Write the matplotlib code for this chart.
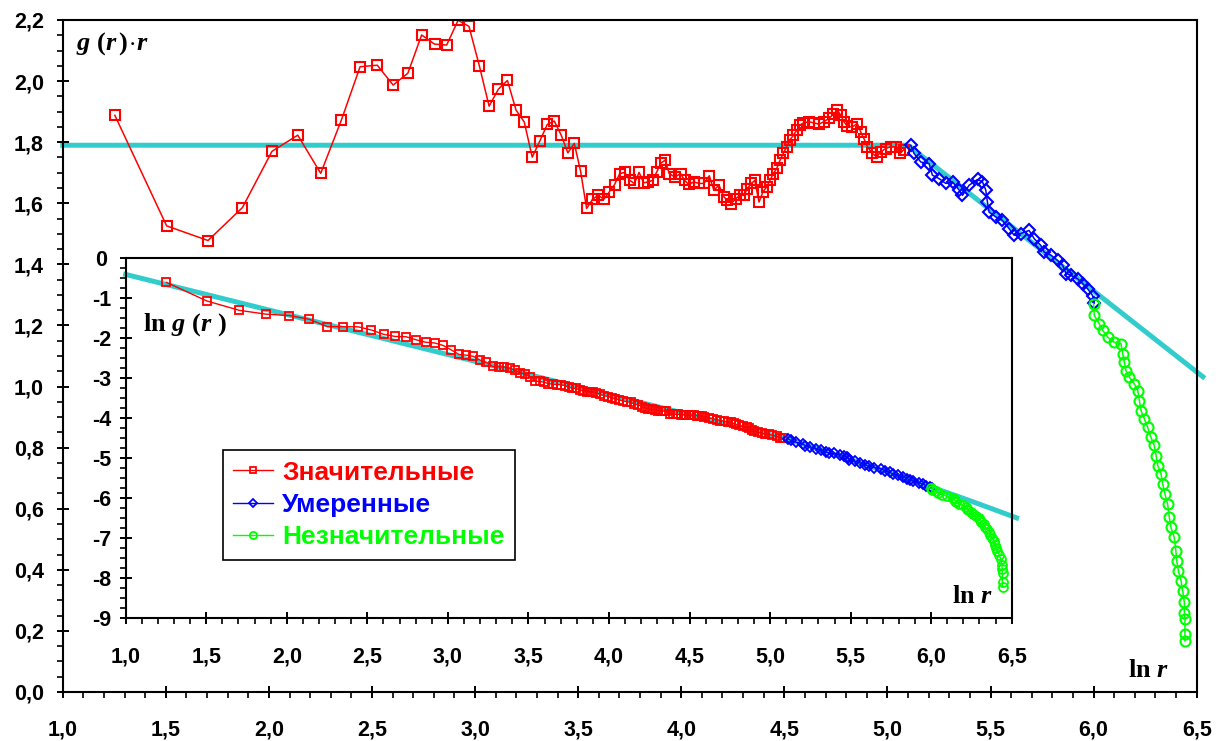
import numpy as np
import matplotlib
matplotlib.use("Agg")
import matplotlib.pyplot as plt
from matplotlib.ticker import MultipleLocator, FuncFormatter

plt.rcParams["font.family"] = ["Liberation Sans", "DejaVu Sans"]
plt.rcParams["font.weight"] = "bold"
plt.rcParams["mathtext.fontset"] = "custom"
plt.rcParams["mathtext.rm"] = "Liberation Serif:bold"
plt.rcParams["mathtext.it"] = "Liberation Serif:italic:bold"
plt.rcParams["mathtext.bf"] = "Liberation Serif:bold"

# "Значительные": r = 3.5, 4.5, ... 51.5 (one point per r), then denser part read by ln r
red_r = np.arange(3.5, 52.0, 1.0)
red_gr_sparse = [1.888, 1.526, 1.478, 1.586, 1.770, 1.823, 1.698, 1.872, 2.047, 2.052,
                 1.987, 2.026, 2.151, 2.121, 2.118, 2.199, 2.179, 2.051, 1.918, 1.974,
                 2.002, 1.905, 1.866, 1.751, 1.804, 1.858, 1.869, 1.823,
                 1.765, 1.796, 1.706, 1.583, 1.613, 1.626, 1.613, 1.637, 1.661, 1.697,
                 1.701, 1.675, 1.665, 1.701, 1.667, 1.670, 1.675, 1.703, 1.732, 1.741, 1.697]
red_lnr_dense = [3.969, 3.997, 4.016, 4.037, 4.061, 4.085, 4.110, 4.136, 4.158, 4.183,
                 4.207, 4.223, 4.243, 4.264, 4.284, 4.304, 4.320, 4.340, 4.357, 4.377,
                 4.396, 4.414, 4.430, 4.447, 4.463, 4.479, 4.495, 4.511, 4.527, 4.544,
                 4.560, 4.576, 4.592, 4.619, 4.644, 4.668, 4.692, 4.717, 4.738, 4.757,
                 4.773, 4.789, 4.806, 4.830, 4.854, 4.870, 4.886, 4.903, 4.927, 4.948,
                 4.967, 4.991, 5.015, 5.040, 5.061, 5.079]
red_gr_dense = [1.686, 1.697, 1.675, 1.662, 1.670, 1.665, 1.665, 1.690, 1.643, 1.659,
                1.621, 1.610, 1.599, 1.615, 1.626, 1.626, 1.648, 1.665, 1.675, 1.604,
                1.637, 1.653, 1.675, 1.697, 1.714, 1.741, 1.763, 1.785, 1.807, 1.823,
                1.839, 1.856, 1.863, 1.867, 1.863, 1.859, 1.867, 1.878, 1.892, 1.905,
                1.889, 1.867, 1.852, 1.850, 1.861, 1.834, 1.812, 1.785, 1.763, 1.752,
                1.768, 1.779, 1.785, 1.785, 1.763, 1.775]

# "Умеренные"
blue_lnr = [5.113, 5.129, 5.162, 5.202, 5.218, 5.250, 5.283, 5.316, 5.348, 5.364,
            5.396, 5.437, 5.461, 5.477, 5.485, 5.493, 5.526, 5.558, 5.590, 5.615,
            5.647, 5.687, 5.712, 5.744, 5.760, 5.793, 5.825, 5.850, 5.866, 5.890,
            5.922, 5.947, 5.971, 5.995, 6.003]
blue_gr = [1.790, 1.763, 1.735, 1.730, 1.692, 1.681, 1.665, 1.670, 1.643, 1.626,
           1.659, 1.678, 1.670, 1.643, 1.604, 1.571, 1.555, 1.544, 1.517, 1.495,
           1.501, 1.511, 1.484, 1.462, 1.440, 1.430, 1.413, 1.397, 1.370, 1.364,
           1.353, 1.337, 1.320, 1.298, 1.273]

# "Незначительные"
green_lnr = [6.000, 6.003, 6.027, 6.044, 6.068, 6.100, 6.133, 6.141, 6.149, 6.157,
             6.173, 6.197, 6.214, 6.222, 6.230, 6.246, 6.262, 6.278, 6.294, 6.303,
             6.311, 6.327, 6.335, 6.346, 6.359, 6.367, 6.375, 6.391, 6.399, 6.403,
             6.411, 6.424, 6.432, 6.440, 6.440, 6.443, 6.443, 6.443]
green_gr = [1.269, 1.233, 1.206, 1.184, 1.162, 1.145, 1.140, 1.107, 1.080, 1.052,
            1.031, 1.009, 0.987, 0.954, 0.921, 0.894, 0.867, 0.834, 0.807, 0.774,
            0.741, 0.714, 0.681, 0.648, 0.615, 0.572, 0.539, 0.506, 0.462, 0.430,
            0.397, 0.364, 0.331, 0.293, 0.260, 0.238, 0.189, 0.167]

# fitted curve g(r)*r (cyan), nodes
fit_lnr = [1.0, 5.1, 6.53]
fit_gr = [1.79, 1.79, 1.032]

labels = ["Значительные", "Умеренные", "Незначительные"]
colors = ["#ff0000", "#0000ff", "#00ff00"]
markers = ["s", "D", "o"]
msizes = [6.6, 6.0, 7.2]
cyan = "#33cccc"

red_lnr = np.concatenate([np.log(red_r), red_lnr_dense])
red_gr = np.concatenate([red_gr_sparse, red_gr_dense])
series = [(red_lnr, red_gr), (np.array(blue_lnr), np.array(blue_gr)),
          (np.array(green_lnr), np.array(green_gr))]

fig = plt.figure(figsize=(12.19, 7.41), dpi=100)
ax = fig.add_axes([0.05144, 0.06613, 0.93027, 0.90688])
ins = fig.add_axes([0.10312, 0.16599, 0.72683, 0.48623])

comma = FuncFormatter(lambda v, p: ("%.1f" % v).replace(".", ","))

# main chart: g(r)*r
fx = np.linspace(fit_lnr[0], fit_lnr[-1], 300)
fy = np.interp(fx, fit_lnr, fit_gr)
ax.plot(fx, fy, color=cyan, lw=3.6, zorder=1, clip_on=False)
for (x, y), lab, c, m, ms in zip(series, labels, colors, markers, msizes):
    ax.plot(x, y, color=c, lw=1.1, marker=m, ms=ms, mfc="none", mec=c, mew=1.5,
            label=lab, zorder=2)

ax.set_xlim(1.0, 6.5)
ax.set_ylim(0.0, 2.2)
ax.xaxis.set_major_locator(MultipleLocator(0.5))
ax.xaxis.set_minor_locator(MultipleLocator(0.1))
ax.yaxis.set_major_locator(MultipleLocator(0.2))
ax.yaxis.set_minor_locator(MultipleLocator(0.05))
ax.xaxis.set_major_formatter(comma)
ax.yaxis.set_major_formatter(comma)
ax.tick_params(which="major", direction="inout", length=9, width=1.4, labelsize=15.5)
ax.tick_params(which="minor", direction="out", length=4.5, width=1.2)
ax.tick_params(axis="x", which="major", pad=15)
ax.tick_params(axis="y", which="major", pad=9)
for s in ax.spines.values():
    s.set_linewidth(1.5)

# inset: ln g(r) = ln(g(r)*r) - ln r
ins.set_facecolor("white")
ins.plot(fx, np.log(fy) - fx, color=cyan, lw=3.6, zorder=1, clip_on=False)
for (x, y), lab, c, m, ms in zip(series, labels, colors, markers, msizes):
    ins.plot(x, np.log(y) - x, color=c, lw=1.0, marker=m, ms=ms * 0.9, mfc="none",
             mec=c, mew=1.3, label=lab, zorder=2)

ins.set_xlim(1.0, 6.5)
ins.set_ylim(-9, 0)
ins.xaxis.set_major_locator(MultipleLocator(0.5))
ins.xaxis.set_minor_locator(MultipleLocator(0.1))
ins.yaxis.set_major_locator(MultipleLocator(1))
ins.yaxis.set_minor_locator(MultipleLocator(0.25))
ins.xaxis.set_major_formatter(comma)
ins.yaxis.set_major_formatter(FuncFormatter(lambda v, p: "%d" % round(v)))
ins.tick_params(which="major", direction="inout", length=9, width=1.4, labelsize=15.5)
ins.tick_params(which="minor", direction="out", length=4.5, width=1.2)
ins.tick_params(axis="x", which="major", pad=16)
ins.tick_params(axis="y", which="major", pad=13)
for t in ins.get_yticklabels():
    t.set_horizontalalignment("center")
for s in ins.spines.values():
    s.set_linewidth(1.5)

leg = ins.legend(loc="upper left", bbox_to_anchor=(222.7 / 1219, 1 - 450 / 741),
                 bbox_transform=fig.transFigure, borderaxespad=0, fontsize=19,
                 frameon=True, fancybox=False, edgecolor="black", framealpha=1,
                 handlelength=1.5, handletextpad=0.35, labelspacing=0.32,
                 borderpad=0.4, labelcolor="linecolor", markerscale=0.8)
leg.get_frame().set_linewidth(1.2)

fig.text(76 / 1219, 1 - 50 / 741, r"$g\ (r\,)\!\cdot\! r$", fontsize=19)
fig.text(143 / 1219, 1 - 331 / 741, r"$\mathrm{ln}\ g\ (r\ )$", fontsize=19)
fig.text(952 / 1219, 1 - 603 / 741, r"$\mathrm{ln}\ r$", fontsize=19)
fig.text(1128 / 1219, 1 - 677 / 741, r"$\mathrm{ln}\ r$", fontsize=19)

fig.savefig("out.png", dpi=100)
